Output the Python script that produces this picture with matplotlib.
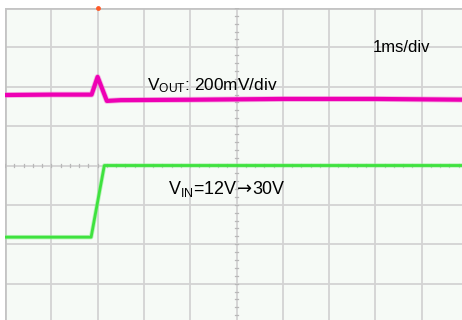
import matplotlib
matplotlib.use("Agg")
import matplotlib.pyplot as plt
from matplotlib.transforms import offset_copy
import numpy as np

# ---- data (in screen divisions: x 0..10, y -4..4) ----
vout_x = [0.0, 1.0, 1.87, 2.0, 2.2, 2.5, 4.0, 6.0, 8.0, 10.0]
vout_y = [1.79, 1.80, 1.80, 2.25, 1.64, 1.66, 1.67, 1.69, 1.69, 1.67]
vin_x = [0.0, 1.0, 1.86, 2.145, 4.0, 6.0, 8.0, 10.0]
vin_y = [-1.82, -1.82, -1.82, 0.0, 0.0, 0.0, 0.0, 0.0]
trigger_x = 2.0

label_time = "1ms/div"
label_vout = r"V$_{\mathrm{OUT}}$: 200mV/div"
label_vin_parts = [r"V$_{\mathrm{IN}}$=12V", "→", "30V"]

plt.rcParams['font.family'] = ['Liberation Sans', 'DejaVu Sans']
plt.rcParams['mathtext.fontset'] = 'custom'
plt.rcParams['mathtext.rm'] = 'Liberation Sans'
plt.rcParams['mathtext.it'] = 'Liberation Sans:italic'

W, H = 462, 320
fig = plt.figure(figsize=(W / 100, H / 100), dpi=100)
fig.patch.set_facecolor('white')
left_px, top_px, w_px, h_px = 5, 8, 463, 315
ax = fig.add_axes([left_px / W, (H - top_px - h_px) / H, w_px / W, h_px / H])
ax.set_facecolor('#f6faf6')
ax.set_xlim(0, 10)
ax.set_ylim(-4, 4)
for s in ax.spines.values():
    s.set_visible(False)
ax.set_xticks([])
ax.set_yticks([])

grid_c = '#d3d3d3'
for gx in range(1, 10):
    ax.axvline(gx, color=grid_c, lw=1.3, zorder=1)
for gy in range(-3, 4):
    ax.axhline(gy, color=grid_c, lw=1.3, zorder=1)
# borders
ax.axvline(0, color='#c4c4c4', lw=2.0, zorder=1)
ax.axhline(4, color='#c4c4c4', lw=2.0, zorder=1)

# center-line minor ticks
for tx in np.arange(0, 10.01, 0.2):
    ax.plot([tx, tx], [-0.05, 0.05], color='#b8b8b8', lw=0.9, zorder=1)
for ty in np.arange(-4, 4.01, 0.2):
    ax.plot([4.96, 5.04], [ty, ty], color='#b8b8b8', lw=0.9, zorder=1)

# traces (soft fringe + core)
ax.plot(vout_x, vout_y, color='#f070d0', lw=4.2, alpha=0.5, solid_joinstyle='round', zorder=3)
ax.plot(vout_x, vout_y, color='#ee00b4', lw=3.0, solid_joinstyle='round', zorder=3)
ax.plot(vin_x, vin_y, color='#90f090', lw=3.2, alpha=0.6, solid_joinstyle='round', zorder=3)
ax.plot(vin_x, vin_y, color='#3ee23e', lw=2.0, solid_joinstyle='round', zorder=3)

# trigger marker
ax.plot([trigger_x], [4], marker='o', ms=3.5, color='#ff5a28', mec='none',
        clip_on=False, zorder=5)

fs = 12.4
ax.text(7.94, 2.89, label_time, fontsize=12, color='black', va='baseline', ha='left')
ax.text(3.07, 1.92, label_vout, fontsize=fs, color='black', va='baseline', ha='left')

fig.canvas.draw()
renderer = fig.canvas.get_renderer()
x0, y0 = 3.52, -0.72
offset = 0.0
fs_in = 12.9
fams = [['Liberation Sans', 'DejaVu Sans'], ['DejaVu Sans'], ['Liberation Sans', 'DejaVu Sans']]
for part, fam in zip(label_vin_parts, fams):
    tr = offset_copy(ax.transData, fig=fig, x=offset, y=0, units='dots')
    t = ax.text(x0, y0, part, fontsize=fs_in, family=fam, color='black',
                va='baseline', ha='left', transform=tr)
    offset += t.get_window_extent(renderer).width

fig.savefig('out.png', dpi=100, facecolor='white')
